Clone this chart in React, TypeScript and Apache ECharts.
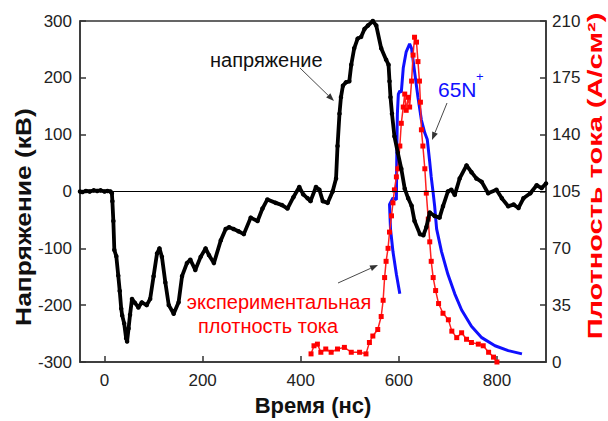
import React, { useEffect, useRef } from "react";
import * as echarts from "echarts";

// Voltage (kV) vs time (ns)
const voltageT = [-50, -45, -38, -30, -22, -15, -8, 0, 6, 12, 15, 16, 18, 20, 24, 28, 31, 34, 36, 40, 44, 46, 49, 52, 56, 62, 69, 76, 86, 93, 100, 107, 112, 117, 124, 131, 141, 151, 158, 168, 175, 185, 196, 206, 213, 223, 237, 247, 254, 263, 273, 284, 298, 312, 322, 332, 349, 362, 373, 385, 397, 405, 414, 420, 431, 438, 445, 455, 465, 472, 475, 479, 482, 486, 492, 499, 503, 509, 516, 523, 530, 537, 547, 554, 564, 574, 579, 581, 583, 586, 591, 598, 605, 612, 619, 626, 632, 643, 650, 656, 663, 673, 683, 690, 700, 707, 714, 724, 738, 748, 758, 769, 782, 799, 810, 823, 834, 844, 854, 868, 881, 891, 900];
const voltageV = [0, -1, 1, 0, 2, 1, 2, 0, 1, 0, -3, -17, -52, -103, -114, -148, -175, -206, -218, -232, -258, -264, -241, -217, -189, -196, -204, -195, -200, -189, -149, -109, -100, -115, -160, -200, -215, -195, -149, -126, -120, -138, -115, -100, -112, -126, -86, -66, -63, -66, -70, -75, -46, -52, -30, -14, -20, -24, -30, -10, 8, -5, -12, -17, 8, 3, -17, -20, 0, 23, 80, 137, 166, 186, 192, 194, 223, 252, 269, 272, 286, 292, 300, 292, 252, 232, 223, 194, 166, 137, 97, 68, 40, 5, -12, -25, -52, -75, -77, -63, -37, -43, -46, -26, 0, 3, -6, 23, 46, 34, 23, 17, -3, 3, -12, -26, -23, -29, -12, -3, 11, 6, 14];

// Simulated 65N+ current density (A/cm2)
const ionT = [602, 595, 588, 583, 581, 588, 595, 596, 597, 599, 602, 605, 609, 615, 622, 626, 632, 639, 646, 653, 658, 663, 666, 670, 673, 677, 687, 700, 714, 728, 748, 769, 796, 823, 851];
const ionJ = [42, 54, 68, 82, 97, 101, 100, 133, 153, 165, 167, 166, 181, 191, 196, 193, 179, 163, 149, 141, 137, 123, 114, 104, 96, 82, 68, 54, 42, 32, 22, 15, 10, 7, 5];

// Experimental current density (A/cm2)
const expT = [421, 427, 434, 441, 451, 462, 475, 489, 503, 520, 533, 540, 547, 557, 564, 568, 571, 574, 578, 581, 585, 588, 591, 595, 598, 602, 605, 609, 612, 615, 619, 622, 626, 629, 632, 636, 639, 642, 644, 646, 649, 653, 656, 660, 663, 666, 670, 675, 681, 690, 701, 708, 718, 728, 738, 748, 762, 772, 783, 793, 800];
const expJ = [5, 10, 11, 6, 8, 6, 8, 9, 6, 6, 5, 12, 16, 20, 28, 38, 52, 62, 70, 80, 90, 98, 106, 114, 119, 133, 147, 157, 165, 155, 163, 157, 173, 189, 200, 197, 185, 173, 160, 143, 133, 119, 104, 88, 74, 62, 52, 44, 36, 30, 26, 19, 15, 18, 14, 12, 11, 10, 6, 3, 0];

const xTicks = [0, 200, 400, 600, 800];

const FONT = "'Liberation Sans', Arial, sans-serif";

function arrow(x1: number, y1: number, x2: number, y2: number, color: string) {
  const dx = x2 - x1, dy = y2 - y1;
  const L = Math.hypot(dx, dy);
  const ux = dx / L, uy = dy / L;
  const hl = 8, hw = 3;
  const bx = x2 - ux * hl, by = y2 - uy * hl;
  return [
    { type: "line", shape: { x1, y1, x2: bx, y2: by }, style: { stroke: color, lineWidth: 0.9 }, silent: true },
    {
      type: "polygon",
      shape: { points: [[x2, y2], [bx - uy * hw, by + ux * hw], [bx + uy * hw, by - ux * hw]] },
      style: { fill: color },
      silent: true,
    },
  ];
}

export default function App() {
  const ref = useRef<HTMLDivElement>(null);
  useEffect(() => {
    if (!ref.current) return;
    const chart = echarts.init(ref.current, undefined, { renderer: "svg" });
    const labelStyle = { fontSize: 17, color: "#222", fontFamily: FONT };
    chart.setOption({
      animation: false,
      backgroundColor: "#fff",
      grid: { left: 80, right: 62, top: 21, bottom: 51, show: true, borderColor: "#333", borderWidth: 1.5, backgroundColor: "transparent" },
      xAxis: {
        type: "value",
        min: -50,
        max: 900,
        name: "Время (нс)",
        nameLocation: "middle",
        nameGap: 32,
        nameTextStyle: { fontSize: 22, fontWeight: "bold", color: "#111", fontFamily: FONT },
        axisLine: { show: true, onZero: false, lineStyle: { color: "#333", width: 1.5 } },
        axisTick: { show: true, inside: true, length: 6, customValues: xTicks, lineStyle: { color: "#333", width: 1.5 } },
        axisLabel: { ...labelStyle, margin: 10, customValues: xTicks },
        splitLine: { show: false },
      },
      yAxis: [
        {
          type: "value",
          min: -300,
          max: 300,
          interval: 100,
          position: "left",
          axisLine: { show: true, onZero: false, lineStyle: { color: "#333", width: 1.5 } },
          axisTick: { show: true, inside: true, length: 6, lineStyle: { color: "#333", width: 1.5 } },
          axisLabel: { ...labelStyle, margin: 8 },
          splitLine: { show: false },
        },
        {
          type: "value",
          min: 0,
          max: 210,
          interval: 35,
          position: "right",
          axisLine: { show: true, onZero: false, lineStyle: { color: "#333", width: 1.5 } },
          axisTick: { show: true, inside: true, length: 6, lineStyle: { color: "#333", width: 1.5 } },
          axisLabel: { ...labelStyle, margin: 6 },
          splitLine: { show: false },
        },
      ],
      series: [
        {
          name: "65N+",
          type: "line",
          yAxisIndex: 1,
          data: ionT.map((t, i) => [t, ionJ[i]]),
          showSymbol: false,
          lineStyle: { color: "#1010ff", width: 3 },
          z: 2,
        },
        {
          name: "экспериментальная плотность тока",
          type: "line",
          yAxisIndex: 1,
          data: expT.map((t, i) => [t, expJ[i]]),
          symbol: "rect",
          symbolSize: 5,
          itemStyle: { color: "#ff0000" },
          lineStyle: { color: "#ff2020", width: 1.5 },
          z: 3,
        },
        {
          name: "напряжение",
          type: "line",
          yAxisIndex: 0,
          data: voltageT.map((t, i) => [t, voltageV[i]]),
          symbol: "circle",
          symbolSize: 4.5,
          itemStyle: { color: "#000" },
          lineStyle: { color: "#000", width: 3.8 },
          markLine: {
            silent: true,
            symbol: "none",
            label: { show: false },
            lineStyle: { color: "#000", width: 1.2, type: "solid" },
            data: [{ yAxis: 0 }],
          },
          z: 4,
        },
      ],
      graphic: [
        {
          type: "text",
          x: 23,
          y: 217,
          rotation: Math.PI / 2,
          scaleX: 1.2,
          style: { text: "Напряжение (кВ)", fontSize: 22, fontWeight: "bold", fill: "#111", fontFamily: FONT, align: "center", verticalAlign: "middle" },
        },
        {
          type: "text",
          x: 595,
          y: 176,
          rotation: Math.PI / 2,
          scaleX: 1.45,
          style: { text: "Плотность тока (A/см²)", fontSize: 20, fontWeight: "bold", fill: "#ff0000", fontFamily: FONT, align: "center", verticalAlign: "middle" },
        },
        {
          type: "text",
          x: 210,
          y: 60,
          style: { text: "напряжение", fontSize: 20, fill: "#111", fontFamily: FONT, align: "left", verticalAlign: "middle" },
        },
        ...arrow(300, 68, 334, 101, "#333"),
        {
          type: "text",
          x: 438,
          y: 89,
          style: { text: "65N", fontSize: 21, fill: "#1010ff", fontFamily: FONT, align: "left", verticalAlign: "middle" },
        },
        {
          type: "text",
          x: 476,
          y: 76,
          style: { text: "+", fontSize: 13, fill: "#1010ff", fontFamily: FONT, align: "left", verticalAlign: "middle" },
        },
        ...arrow(447, 103, 432, 140, "#333"),
        {
          type: "text",
          x: 279,
          y: 302,
          style: { text: "экспериментальная", fontSize: 20, fill: "#ff0000", fontFamily: FONT, align: "center", verticalAlign: "middle" },
        },
        {
          type: "text",
          x: 268,
          y: 326,
          style: { text: "плотность тока", fontSize: 20, fill: "#ff0000", fontFamily: FONT, align: "center", verticalAlign: "middle" },
        },
        ...arrow(338, 283, 378, 265, "#333"),
      ],
    });
    return () => chart.dispose();
  }, []);
  return <div ref={ref} style={{ position: "absolute", left: 0, top: 0, width: 608, height: 421 }} />;
}
